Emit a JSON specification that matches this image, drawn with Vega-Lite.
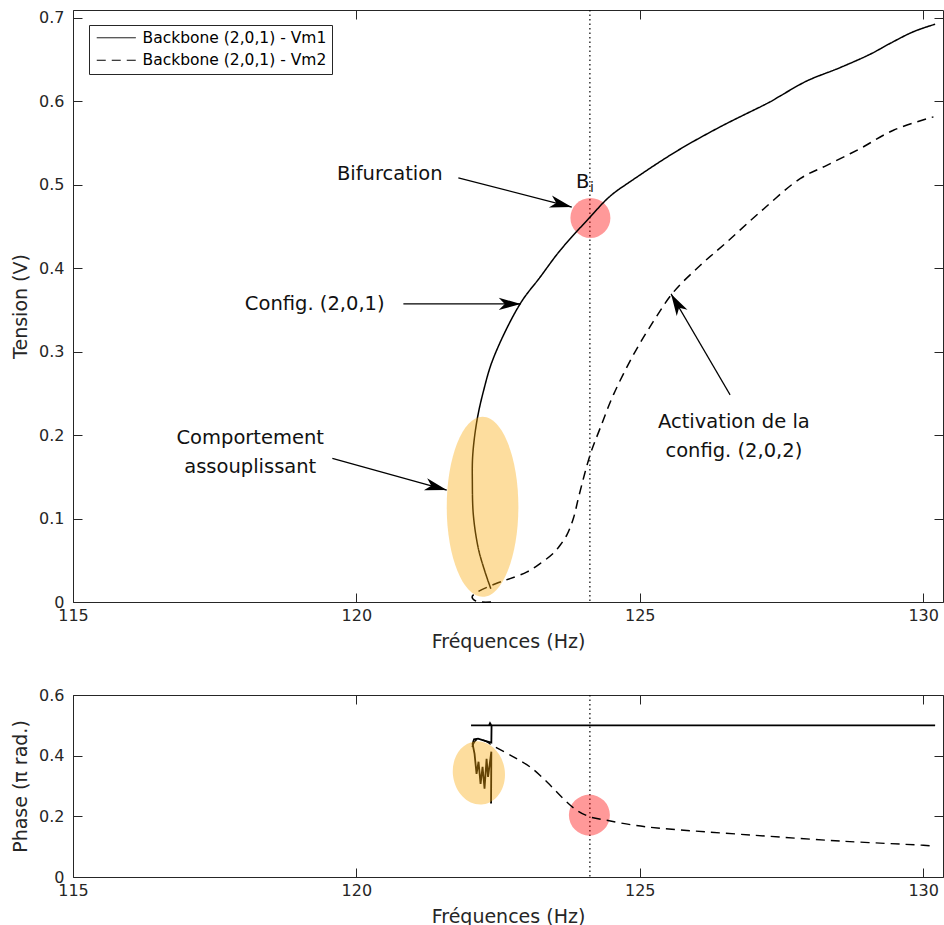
{
  "$schema": "https://vega.github.io/schema/vega-lite/v6.json",
  "background": "white",
  "padding": {"left": 11, "top": 8, "right": 0, "bottom": 0},
  "bounds": "flush",
  "spacing": 93,
  "config": {
    "font": "DejaVu Sans",
    "view": {"stroke": "#262626", "strokeWidth": 1},
    "axis": {"grid": false, "domain": false, "tickSize": -9, "tickColor": "#262626", "tickWidth": 1, "labelFontSize": 16, "labelColor": "#262626", "titleFontSize": 19, "titleFontWeight": "normal", "titleColor": "#262626", "labelFont": "DejaVu Sans", "titleFont": "DejaVu Sans", "labelFlush": false},
    "axisX": {"labelPadding": 14, "titlePadding": 9},
    "axisY": {"labelPadding": 18, "titlePadding": 8}
  },
  "datasets": {
    "bif": [{"f": 124.12}],
    "amp": [
      {"series": "Backbone (2,0,1) - Vm1", "i": 1, "f": 122.371, "v": 0.016},
      {"series": "Backbone (2,0,1) - Vm1", "i": 2, "f": 122.270, "v": 0.036},
      {"series": "Backbone (2,0,1) - Vm1", "i": 3, "f": 122.152, "v": 0.064},
      {"series": "Backbone (2,0,1) - Vm1", "i": 4, "f": 122.064, "v": 0.104},
      {"series": "Backbone (2,0,1) - Vm1", "i": 5, "f": 122.046, "v": 0.144},
      {"series": "Backbone (2,0,1) - Vm1", "i": 6, "f": 122.053, "v": 0.176},
      {"series": "Backbone (2,0,1) - Vm1", "i": 7, "f": 122.124, "v": 0.216},
      {"series": "Backbone (2,0,1) - Vm1", "i": 8, "f": 122.240, "v": 0.252},
      {"series": "Backbone (2,0,1) - Vm1", "i": 9, "f": 122.417, "v": 0.292},
      {"series": "Backbone (2,0,1) - Vm1", "i": 10, "f": 122.888, "v": 0.357},
      {"series": "Backbone (2,0,1) - Vm1", "i": 11, "f": 123.241, "v": 0.389},
      {"series": "Backbone (2,0,1) - Vm1", "i": 12, "f": 123.594, "v": 0.421},
      {"series": "Backbone (2,0,1) - Vm1", "i": 13, "f": 124.123, "v": 0.461},
      {"series": "Backbone (2,0,1) - Vm1", "i": 14, "f": 124.476, "v": 0.486},
      {"series": "Backbone (2,0,1) - Vm1", "i": 15, "f": 124.887, "v": 0.506},
      {"series": "Backbone (2,0,1) - Vm1", "i": 16, "f": 125.653, "v": 0.540},
      {"series": "Backbone (2,0,1) - Vm1", "i": 17, "f": 126.417, "v": 0.569},
      {"series": "Backbone (2,0,1) - Vm1", "i": 18, "f": 127.299, "v": 0.599},
      {"series": "Backbone (2,0,1) - Vm1", "i": 19, "f": 127.476, "v": 0.606},
      {"series": "Backbone (2,0,1) - Vm1", "i": 20, "f": 127.947, "v": 0.624},
      {"series": "Backbone (2,0,1) - Vm1", "i": 21, "f": 128.534, "v": 0.640},
      {"series": "Backbone (2,0,1) - Vm1", "i": 22, "f": 129.064, "v": 0.656},
      {"series": "Backbone (2,0,1) - Vm1", "i": 23, "f": 129.417, "v": 0.669},
      {"series": "Backbone (2,0,1) - Vm1", "i": 24, "f": 129.828, "v": 0.683},
      {"series": "Backbone (2,0,1) - Vm1", "i": 25, "f": 130.211, "v": 0.692},
      {"series": "Backbone (2,0,1) - Vm2", "i": 1, "f": 122.376, "v": 0.000},
      {"series": "Backbone (2,0,1) - Vm2", "i": 2, "f": 122.111, "v": 0.001},
      {"series": "Backbone (2,0,1) - Vm2", "i": 3, "f": 122.041, "v": 0.006},
      {"series": "Backbone (2,0,1) - Vm2", "i": 4, "f": 122.111, "v": 0.011},
      {"series": "Backbone (2,0,1) - Vm2", "i": 5, "f": 122.499, "v": 0.023},
      {"series": "Backbone (2,0,1) - Vm2", "i": 6, "f": 122.711, "v": 0.028},
      {"series": "Backbone (2,0,1) - Vm2", "i": 7, "f": 123.011, "v": 0.036},
      {"series": "Backbone (2,0,1) - Vm2", "i": 8, "f": 123.240, "v": 0.046},
      {"series": "Backbone (2,0,1) - Vm2", "i": 9, "f": 123.470, "v": 0.058},
      {"series": "Backbone (2,0,1) - Vm2", "i": 10, "f": 123.594, "v": 0.068},
      {"series": "Backbone (2,0,1) - Vm2", "i": 11, "f": 123.712, "v": 0.080},
      {"series": "Backbone (2,0,1) - Vm2", "i": 12, "f": 123.828, "v": 0.100},
      {"series": "Backbone (2,0,1) - Vm2", "i": 13, "f": 123.930, "v": 0.128},
      {"series": "Backbone (2,0,1) - Vm2", "i": 14, "f": 124.123, "v": 0.176},
      {"series": "Backbone (2,0,1) - Vm2", "i": 15, "f": 124.300, "v": 0.208},
      {"series": "Backbone (2,0,1) - Vm2", "i": 16, "f": 124.534, "v": 0.248},
      {"series": "Backbone (2,0,1) - Vm2", "i": 17, "f": 124.887, "v": 0.296},
      {"series": "Backbone (2,0,1) - Vm2", "i": 18, "f": 125.240, "v": 0.336},
      {"series": "Backbone (2,0,1) - Vm2", "i": 19, "f": 125.593, "v": 0.371},
      {"series": "Backbone (2,0,1) - Vm2", "i": 20, "f": 126.064, "v": 0.403},
      {"series": "Backbone (2,0,1) - Vm2", "i": 21, "f": 126.535, "v": 0.431},
      {"series": "Backbone (2,0,1) - Vm2", "i": 22, "f": 127.123, "v": 0.467},
      {"series": "Backbone (2,0,1) - Vm2", "i": 23, "f": 127.829, "v": 0.507},
      {"series": "Backbone (2,0,1) - Vm2", "i": 24, "f": 128.300, "v": 0.523},
      {"series": "Backbone (2,0,1) - Vm2", "i": 25, "f": 128.887, "v": 0.543},
      {"series": "Backbone (2,0,1) - Vm2", "i": 26, "f": 129.475, "v": 0.565},
      {"series": "Backbone (2,0,1) - Vm2", "i": 27, "f": 130.181, "v": 0.581}
    ],
    "phase": [
      {"series": "Backbone (2,0,1) - Vm1", "i": 1, "f": 122.376, "p": 0.242},
      {"series": "Backbone (2,0,1) - Vm1", "i": 2, "f": 122.381, "p": 0.413},
      {"series": "Backbone (2,0,1) - Vm1", "i": 3, "f": 122.323, "p": 0.330},
      {"series": "Backbone (2,0,1) - Vm1", "i": 4, "f": 122.297, "p": 0.390},
      {"series": "Backbone (2,0,1) - Vm1", "i": 5, "f": 122.261, "p": 0.291},
      {"series": "Backbone (2,0,1) - Vm1", "i": 6, "f": 122.226, "p": 0.363},
      {"series": "Backbone (2,0,1) - Vm1", "i": 7, "f": 122.191, "p": 0.307},
      {"series": "Backbone (2,0,1) - Vm1", "i": 8, "f": 122.155, "p": 0.380},
      {"series": "Backbone (2,0,1) - Vm1", "i": 9, "f": 122.120, "p": 0.340},
      {"series": "Backbone (2,0,1) - Vm1", "i": 10, "f": 122.085, "p": 0.406},
      {"series": "Backbone (2,0,1) - Vm1", "i": 11, "f": 122.050, "p": 0.439},
      {"series": "Backbone (2,0,1) - Vm1", "i": 12, "f": 122.076, "p": 0.454},
      {"series": "Backbone (2,0,1) - Vm1", "i": 13, "f": 122.147, "p": 0.456},
      {"series": "Backbone (2,0,1) - Vm1", "i": 14, "f": 122.270, "p": 0.449},
      {"series": "Backbone (2,0,1) - Vm1", "i": 15, "f": 122.381, "p": 0.443},
      {"series": "Backbone (2,0,1) - Vm1", "i": 16, "f": 122.385, "p": 0.499},
      {"series": "Backbone (2,0,1) - Vm1", "i": 17, "f": 122.358, "p": 0.507},
      {"series": "Backbone (2,0,1) - Vm1", "i": 18, "f": 122.340, "p": 0.500},
      {"series": "Backbone (2,0,1) - Vm1", "i": 19, "f": 122.023, "p": 0.500},
      {"series": "Backbone (2,0,1) - Vm1", "i": 20, "f": 130.211, "p": 0.500},
      {"series": "Backbone (2,0,1) - Vm2", "i": 1, "f": 122.041, "p": 0.429},
      {"series": "Backbone (2,0,1) - Vm2", "i": 2, "f": 122.124, "p": 0.453},
      {"series": "Backbone (2,0,1) - Vm2", "i": 3, "f": 122.270, "p": 0.449},
      {"series": "Backbone (2,0,1) - Vm2", "i": 4, "f": 122.388, "p": 0.435},
      {"series": "Backbone (2,0,1) - Vm2", "i": 5, "f": 122.770, "p": 0.396},
      {"series": "Backbone (2,0,1) - Vm2", "i": 6, "f": 123.064, "p": 0.363},
      {"series": "Backbone (2,0,1) - Vm2", "i": 7, "f": 123.359, "p": 0.314},
      {"series": "Backbone (2,0,1) - Vm2", "i": 8, "f": 123.652, "p": 0.258},
      {"series": "Backbone (2,0,1) - Vm2", "i": 9, "f": 123.888, "p": 0.220},
      {"series": "Backbone (2,0,1) - Vm2", "i": 10, "f": 124.123, "p": 0.198},
      {"series": "Backbone (2,0,1) - Vm2", "i": 11, "f": 124.418, "p": 0.187},
      {"series": "Backbone (2,0,1) - Vm2", "i": 12, "f": 124.887, "p": 0.171},
      {"series": "Backbone (2,0,1) - Vm2", "i": 13, "f": 125.399, "p": 0.160},
      {"series": "Backbone (2,0,1) - Vm2", "i": 14, "f": 126.992, "p": 0.138},
      {"series": "Backbone (2,0,1) - Vm2", "i": 15, "f": 128.586, "p": 0.118},
      {"series": "Backbone (2,0,1) - Vm2", "i": 16, "f": 129.966, "p": 0.105},
      {"series": "Backbone (2,0,1) - Vm2", "i": 17, "f": 130.211, "p": 0.102}
    ],
    "hl": [
      {"name": "orangeTop", "f": 122.226, "v": 0.114},
      {"name": "redTop", "f": 124.129, "v": 0.460},
      {"name": "orangeBot", "f": 122.161, "p": 0.343},
      {"name": "redBot", "f": 124.111, "p": 0.204}
    ],
    "arrows": [
      {"name": "bif", "f": 121.799, "v": 0.508, "f2": 123.800, "v2": 0.473},
      {"name": "cfg", "f": 120.829, "v": 0.357, "f2": 122.900, "v2": 0.357},
      {"name": "comp", "f": 119.576, "v": 0.172, "f2": 121.594, "v2": 0.134},
      {"name": "act", "f": 126.594, "v": 0.248, "f2": 125.552, "v2": 0.369}
    ],
    "notes": [
      {"label": "Bifurcation", "f": 120.588, "v": 0.513},
      {"label": "Config. (2,0,1)", "f": 119.265, "v": 0.357},
      {"label": "Comportement\nassouplissant", "f": 118.127, "v": 0.197},
      {"label": "Activation de la\nconfig. (2,0,2)", "f": 126.660, "v": 0.216}
    ],
    "bi": [
      {"label": "B", "f": 123.876, "v": 0.496},
      {"label": "i", "f": 124.123, "v": 0.491}
    ]
  },
  "vconcat": [
    {
      "width": 870,
      "height": 592,
      "resolve": {"axis": {"x": "independent", "y": "independent"}},
      "layer": [
        {
          "data": {"name": "bif"},
          "mark": {"type": "rule", "color": "black", "strokeWidth": 1.2, "strokeDash": [1.5, 3]},
          "encoding": {
            "x": {"field": "f", "type": "quantitative", "scale": {"domain": [115, 130.35], "nice": false, "zero": false}, "axis": null}
          }
        },
        {
          "data": {"name": "hl"},
          "transform": [{"filter": "datum.name === 'redTop'"}],
          "mark": {"type": "point", "shape": "circle", "filled": true, "size": 1600, "color": "#ff0000", "opacity": 0.4, "strokeWidth": 0},
          "encoding": {
            "x": {"field": "f", "type": "quantitative", "scale": {"domain": [115, 130.35], "nice": false, "zero": false}, "axis": {"orient": "top", "labels": false, "title": null, "values": [115, 120, 125, 130]}},
            "y": {"field": "v", "type": "quantitative", "scale": {"domain": [0, 0.709], "nice": false, "zero": false}, "axis": {"orient": "right", "labels": false, "title": null, "values": [0, 0.1, 0.2, 0.3, 0.4, 0.5, 0.6, 0.7]}}
          }
        },
        {
          "data": {"name": "amp"},
          "mark": {"type": "line", "color": "black", "strokeWidth": 1.5, "interpolate": "catmull-rom"},
          "encoding": {
            "x": {"field": "f", "type": "quantitative", "scale": {"domain": [115, 130.35], "nice": false, "zero": false}, "axis": {"orient": "bottom", "title": "Fréquences (Hz)", "values": [115, 120, 125, 130]}},
            "y": {"field": "v", "type": "quantitative", "scale": {"domain": [0, 0.709], "nice": false, "zero": false}, "axis": {"orient": "left", "title": "Tension (V)", "values": [0, 0.1, 0.2, 0.3, 0.4, 0.5, 0.6, 0.7], "format": ".1~f"}},
            "order": {"field": "i", "type": "quantitative"},
            "strokeDash": {
              "field": "series", "type": "nominal",
              "scale": {"domain": ["Backbone (2,0,1) - Vm1", "Backbone (2,0,1) - Vm2"], "range": [[1, 0], [9, 6]]},
              "legend": {"orient": "none", "legendX": 16, "legendY": 15, "title": null, "symbolType": "M -1 0 L 6.8 0", "symbolSize": 100, "symbolStrokeWidth": 1, "symbolStrokeColor": "black", "labelFontSize": 15.5, "labelOffset": 33, "labelLimit": 400, "padding": 5, "strokeColor": "#262626", "fillColor": "white", "rowPadding": 5.5, "labelColor": "black", "labelFont": "DejaVu Sans"}
            }
          }
        },
        {
          "data": {"name": "hl"},
          "transform": [{"filter": "datum.name === 'orangeTop'"}],
          "mark": {"type": "point", "shape": "M 0 -1 C 0.2198 -1 0.398 -0.5523 0.398 0 C 0.398 0.5523 0.2198 1 0 1 C -0.2198 1 -0.398 0.5523 -0.398 0 C -0.398 -0.5523 -0.2198 -1 0 -1 Z", "filled": true, "size": 32400, "color": "#faab0d", "opacity": 0.4, "strokeWidth": 0},
          "encoding": {
            "x": {"field": "f", "type": "quantitative", "axis": null},
            "y": {"field": "v", "type": "quantitative", "axis": null}
          }
        },
        {
          "data": {"name": "arrows"},
          "mark": {"type": "rule", "color": "black", "strokeWidth": 1.2},
          "encoding": {
            "x": {"field": "f", "type": "quantitative", "axis": null},
            "y": {"field": "v", "type": "quantitative", "axis": null},
            "x2": {"field": "f2"},
            "y2": {"field": "v2"}
          }
        },
        {
          "data": {"name": "arrows"},
          "transform": [{"filter": "datum.name === 'bif'"}],
          "mark": {"type": "point", "shape": "M 0 0 L -2.2 -0.62 L -1.6 0 L -2.2 0.62 Z", "size": 400, "filled": true, "color": "black", "opacity": 1, "strokeWidth": 0, "angle": 14.35},
          "encoding": {
            "x": {"field": "f2", "type": "quantitative", "axis": null},
            "y": {"field": "v2", "type": "quantitative", "axis": null}
          }
        },
        {
          "data": {"name": "arrows"},
          "transform": [{"filter": "datum.name === 'cfg'"}],
          "mark": {"type": "point", "shape": "M 0 0 L -2.2 -0.62 L -1.6 0 L -2.2 0.62 Z", "size": 400, "filled": true, "color": "black", "opacity": 1, "strokeWidth": 0, "angle": 0},
          "encoding": {
            "x": {"field": "f2", "type": "quantitative", "axis": null},
            "y": {"field": "v2", "type": "quantitative", "axis": null}
          }
        },
        {
          "data": {"name": "arrows"},
          "transform": [{"filter": "datum.name === 'comp'"}],
          "mark": {"type": "point", "shape": "M 0 0 L -2.2 -0.62 L -1.6 0 L -2.2 0.62 Z", "size": 400, "filled": true, "color": "black", "opacity": 1, "strokeWidth": 0, "angle": 15.44},
          "encoding": {
            "x": {"field": "f2", "type": "quantitative", "axis": null},
            "y": {"field": "v2", "type": "quantitative", "axis": null}
          }
        },
        {
          "data": {"name": "arrows"},
          "transform": [{"filter": "datum.name === 'act'"}],
          "mark": {"type": "point", "shape": "M 0 0 L -2.2 -0.62 L -1.6 0 L -2.2 0.62 Z", "size": 400, "filled": true, "color": "black", "opacity": 1, "strokeWidth": 0, "angle": 239.86},
          "encoding": {
            "x": {"field": "f2", "type": "quantitative", "axis": null},
            "y": {"field": "v2", "type": "quantitative", "axis": null}
          }
        },
        {
          "data": {"name": "notes"},
          "mark": {"type": "text", "fontSize": 19.5, "color": "#111111", "align": "center", "baseline": "middle", "lineBreak": "\n", "lineHeight": 29},
          "encoding": {
            "x": {"field": "f", "type": "quantitative", "axis": null},
            "y": {"field": "v", "type": "quantitative", "axis": null},
            "text": {"field": "label"}
          }
        },
        {
          "data": {"name": "bi"},
          "transform": [{"filter": "datum.label === 'B'"}],
          "mark": {"type": "text", "fontSize": 19.5, "color": "#111111", "align": "left", "baseline": "alphabetic"},
          "encoding": {
            "x": {"field": "f", "type": "quantitative", "axis": null},
            "y": {"field": "v", "type": "quantitative", "axis": null},
            "text": {"field": "label"}
          }
        },
        {
          "data": {"name": "bi"},
          "transform": [{"filter": "datum.label === 'i'"}],
          "mark": {"type": "text", "fontSize": 14, "color": "#111111", "align": "left", "baseline": "alphabetic"},
          "encoding": {
            "x": {"field": "f", "type": "quantitative", "axis": null},
            "y": {"field": "v", "type": "quantitative", "axis": null},
            "text": {"field": "label"}
          }
        }
      ]
    },
    {
      "width": 870,
      "height": 182,
      "resolve": {"axis": {"x": "independent", "y": "independent"}},
      "layer": [
        {
          "data": {"name": "bif"},
          "mark": {"type": "rule", "color": "black", "strokeWidth": 1.2, "strokeDash": [1.5, 3]},
          "encoding": {
            "x": {"field": "f", "type": "quantitative", "scale": {"domain": [115, 130.35], "nice": false, "zero": false}, "axis": null}
          }
        },
        {
          "data": {"name": "hl"},
          "transform": [{"filter": "datum.name === 'redBot'"}],
          "mark": {"type": "point", "shape": "circle", "filled": true, "size": 1681, "color": "#ff0000", "opacity": 0.4, "strokeWidth": 0},
          "encoding": {
            "x": {"field": "f", "type": "quantitative", "scale": {"domain": [115, 130.35], "nice": false, "zero": false}, "axis": {"orient": "top", "labels": false, "title": null, "values": [115, 120, 125, 130]}},
            "y": {"field": "p", "type": "quantitative", "scale": {"domain": [0, 0.6], "nice": false, "zero": false}, "axis": {"orient": "right", "labels": false, "title": null, "values": [0, 0.2, 0.4, 0.6]}}
          }
        },
        {
          "data": {"name": "phase"},
          "transform": [{"filter": "datum.series === 'Backbone (2,0,1) - Vm1'"}],
          "mark": {"type": "line", "color": "black", "strokeWidth": 1.8},
          "encoding": {
            "x": {"field": "f", "type": "quantitative", "scale": {"domain": [115, 130.35], "nice": false, "zero": false}, "axis": {"orient": "bottom", "title": "Fréquences (Hz)", "values": [115, 120, 125, 130]}},
            "y": {"field": "p", "type": "quantitative", "scale": {"domain": [0, 0.6], "nice": false, "zero": false}, "axis": {"orient": "left", "title": "Phase (π rad.)", "values": [0, 0.2, 0.4, 0.6], "format": ".1~f"}},
            "order": {"field": "i", "type": "quantitative"}
          }
        },
        {
          "data": {"name": "phase"},
          "transform": [{"filter": "datum.series === 'Backbone (2,0,1) - Vm2'"}],
          "mark": {"type": "line", "color": "black", "strokeWidth": 1.4, "strokeDash": [9, 6], "interpolate": "catmull-rom"},
          "encoding": {
            "x": {"field": "f", "type": "quantitative", "axis": null},
            "y": {"field": "p", "type": "quantitative", "axis": null},
            "order": {"field": "i", "type": "quantitative"}
          }
        },
        {
          "data": {"name": "hl"},
          "transform": [{"filter": "datum.name === 'orangeBot'"}],
          "mark": {"type": "point", "shape": "M 0 -1 C 0.4529 -1 0.82 -0.5523 0.82 0 C 0.82 0.5523 0.4529 1 0 1 C -0.4529 1 -0.82 0.5523 -0.82 0 C -0.82 -0.5523 -0.4529 -1 0 -1 Z", "filled": true, "size": 4020, "color": "#faab0d", "opacity": 0.4, "strokeWidth": 0, "angle": -8},
          "encoding": {
            "x": {"field": "f", "type": "quantitative", "axis": null},
            "y": {"field": "p", "type": "quantitative", "axis": null}
          }
        }
      ]
    }
  ]
}
